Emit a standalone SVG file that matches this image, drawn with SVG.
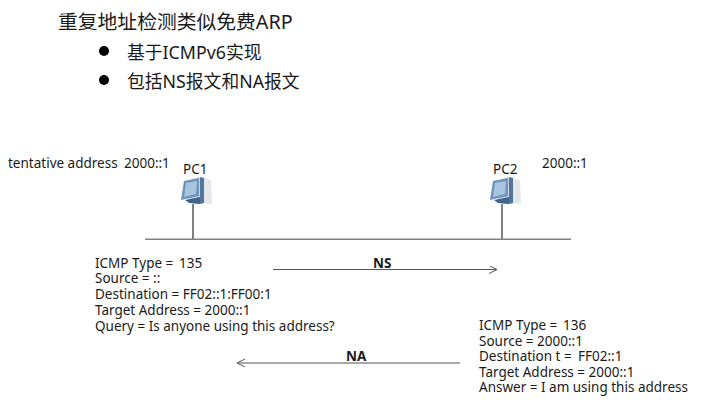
<svg xmlns="http://www.w3.org/2000/svg" width="701" height="407" viewBox="0 0 701 407">
<style>
text{font-family:"Noto Sans","Noto Sans CJK SC",sans-serif;fill:#1a1a1a;white-space:pre}
.t{font-size:19.8px}
.b{font-size:17.8px}
.s{font-size:13.5px}
.h{font-size:13.5px;font-weight:bold}
.c{stroke:#555;stroke-width:1.2;fill:none}
.w{stroke:#808080;stroke-width:2;fill:none}
.g{stroke:#808080;stroke-width:1.5;fill:none}
</style>
<defs>
<marker id="a" markerWidth="10" markerHeight="10" refX="8" refY="4" orient="auto" markerUnits="userSpaceOnUse"><path d="M0 0L8 4L0 8" fill="none" stroke="#555" stroke-width="1"/></marker>
<g id="pc">
<path d="M12 0L21 -2L26 1L27 24L15 25L9 21Z" fill="#cfd6de"/>
<path d="M20 -2L31 1L32 25L20 24Z" fill="#e3e7ec"/>
<path d="M20 -2L24 -1L24 24L20 25Z" fill="#52759c"/>
<path d="M4 2L19 -1L19 17L1 21Z" fill="#6d94bd"/>
<path d="M6 4L17 2L16 15L4 18Z" fill="#a9c4de"/>
<path d="M5 21L20 18L20 25L9 24Z" fill="#3f648c"/>
</g>
</defs>
<text class="t" x="58" y="29">重复地址检测类似免费ARP</text>
<circle cx="104" cy="51" r="5" fill="#000"/>
<circle cx="104" cy="80" r="5" fill="#000"/>
<text class="b" x="127" y="59">基于ICMPv6实现</text>
<text class="b" x="127" y="88">包括NS报文和NA报文</text>
<g id="connectors">
<path class="g" d="M145 239.250H571"/>
<path class="w" d="M193 204V239M502 204V239"/>
<path class="c" d="M273 269.500H497" marker-end="url(#a)"/>
<path class="c" d="M460 363H237" marker-end="url(#a)"/>
</g>
<g id="pc1"><use href="#pc" x="180" y="179"/><text class="s" x="183" y="174">PC1</text></g>
<g id="pc2"><use href="#pc" x="489" y="179"/><text class="s" x="493" y="174">PC2</text></g>
<text class="s" x="8" y="168">tentative address<tspan x="124">2000::1</tspan></text>
<text class="s" x="542" y="168">2000::1</text>
<text class="h" x="373" y="268">NS</text>
<text class="h" x="346" y="361">NA</text>
<text class="s" x="95" y="267.500">ICMP Type = <tspan x="179">135</tspan><tspan x="95" dy="15.800">Source = ::</tspan><tspan x="95" dy="15.800">Destination = FF02::1:FF00:1</tspan><tspan x="95" dy="15.800">Target Address = 2000::1</tspan><tspan x="95" dy="15.800">Query = Is anyone using this address?</tspan></text>
<text class="s" x="479" y="330">ICMP Type = <tspan x="563">136</tspan><tspan x="479" dy="15.500">Source = 2000::1</tspan><tspan x="479" dy="15.500">Destination t =  <tspan x="578">FF02::1</tspan></tspan><tspan x="479" dy="15.500">Target Address = 2000::1</tspan><tspan x="479" dy="15.500">Answer = I am using this address</tspan></text>
</svg>
